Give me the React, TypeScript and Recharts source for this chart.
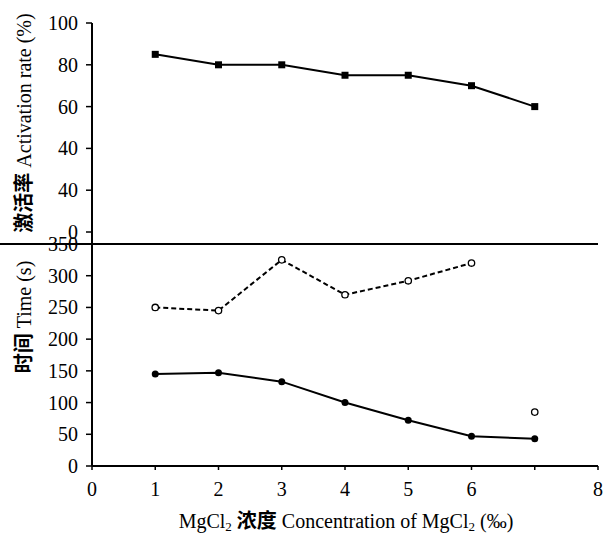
import React from 'react';
import { LineChart, Line, XAxis, YAxis } from 'recharts';

const concentration = [1, 2, 3, 4, 5, 6, 7];
const activationRate = [85, 80, 80, 75, 75, 70, 60];
const timeSolid = [145, 147, 133, 100, 72, 47, 43];
const timeDashed: (number | null)[] = [250, 245, 325, 270, 292, 320, null];
const timeDashedExtra: (number | null)[] = [null, null, null, null, null, null, 85];
const xTicks = [0, 1, 2, 3, 4, 5, 6, 7, 8];
const xTickLabels = ['0', '1', '2', '3', '4', '5', '6', '', '8'];
const topTicks = [0, 20, 40, 60, 80, 100];
const topTickLabels = ['0', '40', '40', '60', '80', '100'];
const bottomTicks = [0, 50, 100, 150, 200, 250, 300, 350];

const topData = concentration.map((x, i) => ({ x, rate: activationRate[i] }));
const bottomData = concentration.map((x, i) => ({
  x,
  solid: timeSolid[i],
  dashed: timeDashed[i],
  extra: timeDashedExtra[i],
}));

const FONT = "'Liberation Serif', 'Times New Roman', 'Noto Sans CJK SC', serif";
const axisLine = { stroke: '#000', strokeWidth: 2 };

const makeYTick = (labels?: { ticks: number[]; labels: string[] }) => (props: any) => {
  const { x, y, payload } = props;
  const v = payload.value;
  const txt = labels ? labels.labels[labels.ticks.indexOf(v)] ?? '' : String(v);
  return (
    <text x={x} y={y} dy="0.35em" textAnchor="end" fontSize={20} fontFamily={FONT} fill="#000">
      {txt}
    </text>
  );
};
const XTick = (props: any) => {
  const { x, y, payload } = props;
  const txt = xTickLabels[xTicks.indexOf(payload.value)] ?? '';
  return (
    <text x={x} y={y} dy="0.75em" textAnchor="middle" fontSize={20} fontFamily={FONT} fill="#000">
      {txt}
    </text>
  );
};

const SquareDot = (props: any) => {
  const { cx, cy } = props;
  if (cx == null || cy == null) return <g />;
  return <rect x={cx - 3.5} y={cy - 3.5} width={7} height={7} fill="#000" />;
};
const FilledDot = (props: any) => {
  const { cx, cy, value } = props;
  if (cx == null || cy == null || value == null) return <g />;
  return <circle cx={cx} cy={cy} r={3.5} fill="#000" />;
};
const OpenDot = (props: any) => {
  const { cx, cy, value } = props;
  if (cx == null || cy == null || value == null) return <g />;
  return <circle cx={cx} cy={cy} r={3.2} fill="#fff" stroke="#000" strokeWidth={1.3} />;
};

const TopYTick = makeYTick({ ticks: topTicks, labels: topTickLabels });
const BottomYTick = makeYTick();

export default function App() {
  return (
    <div style={{ position: 'absolute', left: 0, top: 0, width: 609, height: 535, background: '#fff', fontFamily: FONT }}>
      <div style={{ position: 'absolute', left: 0, top: 0 }}>
        <LineChart width={609} height={244} data={topData} margin={{ top: 23, right: 11, bottom: 0, left: 0 }}>
          <XAxis xAxisId="b" dataKey="x" type="number" domain={[0, 8]} hide />
          <XAxis xAxisId="t" orientation="top" dataKey="x" type="number" domain={[0, 8]} tick={false} tickLine={false} height={0} axisLine={axisLine} />
          <YAxis
            yAxisId="l"
            type="number"
            domain={[-5.74, 100]}
            allowDataOverflow
            ticks={topTicks}
            width={92}
            tickSize={6}
            tickMargin={8}
            tick={TopYTick}
            tickLine={{ stroke: '#000', strokeWidth: 1.5 }}
            axisLine={axisLine}
          />
          <YAxis yAxisId="r" orientation="right" width={0} tick={false} tickLine={false} axisLine={axisLine} />
          <Line xAxisId="b" yAxisId="l" dataKey="rate" stroke="#000" strokeWidth={2} dot={SquareDot} isAnimationActive={false} />
        </LineChart>
      </div>
      <div style={{ position: 'absolute', left: 0, top: 0 }}>
        <LineChart width={609} height={535} data={bottomData} margin={{ top: 244, right: 11, bottom: 0, left: 0 }}>
          <XAxis
            dataKey="x"
            type="number"
            domain={[0, 8]}
            ticks={xTicks}
            height={69}
            tickSize={4}
            tickMargin={11}
            tick={XTick}
            tickLine={{ stroke: '#000', strokeWidth: 1.5 }}
            axisLine={axisLine}
          />
          <YAxis
            yAxisId="l"
            type="number"
            domain={[0, 350]}
            ticks={bottomTicks}
            width={92}
            tickSize={6}
            tickMargin={8}
            tick={BottomYTick}
            tickLine={{ stroke: '#000', strokeWidth: 1.5 }}
            axisLine={axisLine}
          />
          <YAxis yAxisId="r" orientation="right" width={0} tick={false} tickLine={false} axisLine={axisLine} />
          <Line yAxisId="l" dataKey="dashed" stroke="#000" strokeWidth={2} strokeDasharray="5 3" dot={OpenDot} connectNulls={false} isAnimationActive={false} />
          <Line yAxisId="l" dataKey="extra" stroke="none" dot={OpenDot} isAnimationActive={false} />
          <Line yAxisId="l" dataKey="solid" stroke="#000" strokeWidth={2} dot={FilledDot} isAnimationActive={false} />
        </LineChart>
      </div>
      <svg width={609} height={535} style={{ position: 'absolute', left: 0, top: 0, pointerEvents: 'none' }}>
        <line x1={0} y1={244} x2={598} y2={244} stroke="#000" strokeWidth={2} />
        <text transform="rotate(-90)" x={-123} y={31} textAnchor="middle" fontSize={20} fontFamily={FONT} fill="#000">
          <tspan fontWeight="bold">激活率</tspan> Activation rate (%)
        </text>
        <text transform="rotate(-90)" x={-317} y={31} textAnchor="middle" fontSize={20} fontFamily={FONT} fill="#000">
          <tspan fontWeight="bold">时间</tspan> Time (s)
        </text>
        <text x={346} y={528} textAnchor="middle" fontSize={20} fontFamily={FONT} fill="#000">
          MgCl<tspan dy={3} fontSize={13}>2</tspan>
          <tspan dy={-3} fontWeight="bold"> 浓度</tspan> Concentration of MgCl<tspan dy={3} fontSize={13}>2</tspan>
          <tspan dy={-3}> (‰)</tspan>
        </text>
      </svg>
    </div>
  );
}
